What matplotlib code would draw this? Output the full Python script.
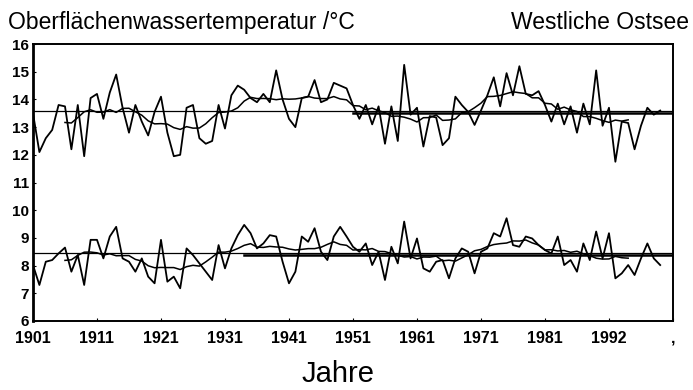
import matplotlib
matplotlib.use('Agg')
import matplotlib.pyplot as plt
import numpy as np
import pandas as pd

plt.rcParams['font.family'] = ['Liberation Sans', 'DejaVu Sans']

# Jahre 1901 - 1999
years = np.arange(1901, 2000)

# Sommer (obere Kurve) und Jahresmittel (untere Kurve)
upper = [13.5, 12.1, 12.6, 12.9, 13.8, 13.75, 12.2, 13.8, 11.95, 14.05,
         14.2, 13.3, 14.25, 14.9, 13.7, 12.8, 13.8, 13.2, 12.7, 13.55,
         14.1, 12.8, 11.95, 12.0, 13.7, 13.8, 12.6, 12.4, 12.5, 13.8,
         12.95, 14.15, 14.5, 14.35, 14.05, 13.9, 14.2, 13.9, 15.05, 14.0,
         13.3, 13.0, 14.05, 14.1, 14.7, 13.9, 14.0, 14.6, 14.5, 14.4,
         13.8, 13.3, 13.8, 13.1, 13.75, 12.4, 13.75, 12.5, 15.25, 13.45,
         13.7, 12.3, 13.4, 13.35, 12.35, 12.6, 14.1, 13.8, 13.55, 13.08,
         13.6, 14.15, 14.8, 13.75, 14.95, 14.15, 15.2, 14.2, 14.15, 14.3,
         13.8, 13.2, 13.85, 13.1, 13.75, 12.8, 13.85, 13.1, 15.05, 13.05,
         13.7, 11.75, 13.2, 13.15, 12.2, 13.05, 13.7, 13.45, 13.6]

lower = [8.02, 7.3, 8.14, 8.2, 8.44, 8.65, 7.78, 8.38, 7.3, 8.93,
         8.93, 8.26, 9.05, 9.4, 8.26, 8.14, 7.78, 8.26, 7.6, 7.36,
         8.93, 7.42, 7.6, 7.18, 8.62, 8.38, 8.08, 7.78, 7.48, 8.74,
         7.9, 8.62, 9.1, 9.47, 9.17, 8.62, 8.8, 9.1, 9.05, 8.14,
         7.36, 7.78, 9.05, 8.86, 9.35, 8.5, 8.2, 9.05, 9.4, 9.05,
         8.68, 8.5, 8.8, 8.02, 8.5, 7.48, 8.68, 8.08, 9.59, 8.26,
         8.98, 7.9, 7.78, 8.14, 8.2, 7.54, 8.26, 8.62, 8.5, 7.72,
         8.5, 8.62, 9.17, 9.05, 9.71, 8.74, 8.68, 9.05, 8.98, 8.74,
         8.56, 8.44, 9.05, 8.02, 8.2, 7.78, 8.8, 8.2, 9.23, 8.26,
         9.17, 7.54, 7.72, 8.02, 7.66, 8.26, 8.8, 8.26, 8.02]

# Mittelwerte (duenne Linie) und Bezugsniveau (dicke Linie)
upper_mean = 13.58
lower_mean = 8.47
upper_ref = 13.5
lower_ref = 8.39
upper_ref_start = 1951
lower_ref_start = 1934

# Achsenbeschriftung
xtick_pos = [1901, 1911, 1921, 1931, 1941, 1951, 1961, 1971, 1981, 1991, 2001]
xtick_labels = ['1901', '1911', '1921', '1931', '1941', '1951', '1961',
                '1971', '1981', '1992', ',']
ytick_pos = list(range(6, 17))

fig = plt.figure(figsize=(6.93, 3.90), dpi=100)
ax = fig.add_axes([0.0476, 0.177, 0.9235, 0.71])

# 11-jaehriges gleitendes Mittel
upper_smooth = pd.Series(upper).rolling(11, center=True).mean()
lower_smooth = pd.Series(lower).rolling(11, center=True).mean()

for vals, smooth in [(upper, upper_smooth), (lower, lower_smooth)]:
    ax.plot(years, vals, color='black', linewidth=1.3)
    ax.plot(years, smooth, color='black', linewidth=1.1)

ax.axhline(upper_mean, color='black', linewidth=0.9)
ax.axhline(lower_mean, color='black', linewidth=0.9)
ax.plot([upper_ref_start, 2001], [upper_ref, upper_ref], color='black', linewidth=1.8)
ax.plot([lower_ref_start, 2001], [lower_ref, lower_ref], color='black', linewidth=1.8)

ax.set_xlim(1901, 2001)
ax.set_ylim(6, 16)
ax.set_xticks(xtick_pos)
ax.set_xticklabels(xtick_labels, fontsize=11.5, fontweight='bold')
ax.set_yticks(ytick_pos)
ax.set_yticklabels([str(v) for v in ytick_pos], fontsize=11, fontweight='bold')
ax.tick_params(axis='x', direction='in', length=2, pad=7)
ax.tick_params(axis='y', direction='in', length=2, pad=3)

for side in ['top', 'bottom', 'right']:
    ax.spines[side].set_linewidth(1.4)
ax.spines['left'].set_linewidth(2.0)

fig.text(0.012, 0.943, 'Oberflächenwassertemperatur /°C', fontsize=16.5,
         ha='left', va='center')
fig.text(0.994, 0.943, 'Westliche Ostsee', fontsize=16.5,
         ha='right', va='center')
fig.text(0.488, 0.04, 'Jahre', fontsize=21, ha='center', va='center')

plt.savefig('out.png', dpi=100)
